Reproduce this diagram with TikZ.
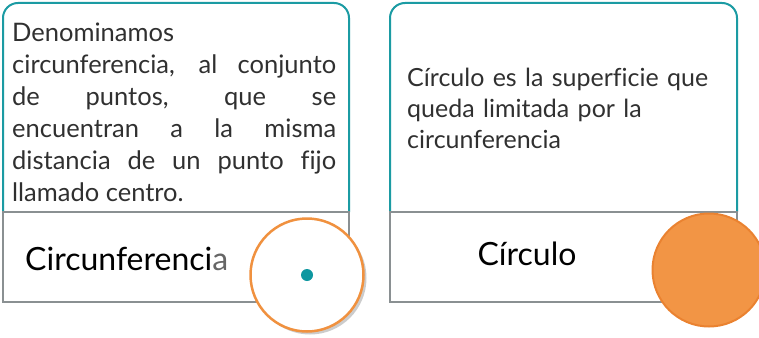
\documentclass[tikz,border=0pt]{standalone}
\usepackage{fontspec}
\setmainfont{Lato}[Ligatures=CommonOff]
\usetikzlibrary{shadows}
\definecolor{tealc}{HTML}{1B9BA3}
\definecolor{grayc}{HTML}{8A9092}
\definecolor{orangec}{HTML}{F0913F}
\definecolor{orangefill}{HTML}{F29545}
\definecolor{orangedark}{HTML}{EA8230}
\definecolor{dotc}{HTML}{0E97A0}
\definecolor{textc}{HTML}{303030}
\tikzset{
  topbox/.style={draw=tealc, line width=2pt, rounded corners=15pt},
  botbox/.style={draw=grayc, line width=2.5pt},
  para/.style={inner sep=0pt, text=textc, font=\fontsize{25.5}{32}\selectfont},
  label/.style={inner sep=0pt, text=black, font=\fontsize{32}{38}\selectfont},
}
\begin{document}
\begin{tikzpicture}[x=1pt,y=-1pt]
\useasboundingbox (0,0) rectangle (759,337);
% left card
\draw[topbox] (3,212) -- (3,3) -- (349,3) -- (349,212);
\draw[botbox] (3,212) rectangle (349,302);
% right card
\draw[topbox] (390,212) -- (390,3) -- (737,3) -- (737,212);
\draw[botbox] (390,212) rectangle (737,302);
% texts
\node[para, anchor=north west, text width=324pt, align=justify] (p1) at (12,22.5)
 {Denominamos\linebreak circunferencia, al conjunto\linebreak de puntos, que se\linebreak encuentran a la misma\linebreak distancia de un punto fijo\linebreak llamado centro.};
\node[para, anchor=north west, text width=330pt, align=left, font=\fontsize{25}{31}\selectfont] (p2) at (407,67.5)
 {Círculo es la superficie que\\ queda limitada por la\\ circunferencia};
\node[label, anchor=base west] (l1) at (25,270) {Circunferenci{\color{black!60}a}};
\node[label, anchor=base] (l2) at (527,265) {Círculo};
% circles
\node[circle, minimum size=113pt, inner sep=0pt, draw=orangec, line width=2.5pt, fill=white,
      drop shadow={opacity=0.4, shadow xshift=3pt, shadow yshift=-3pt}] (c1) at (307,275) {};
\node[circle, minimum size=12pt, inner sep=0pt, fill=dotc] (dot) at (c1.center) {};
\node[circle, minimum size=113pt, inner sep=0pt, draw=orangedark, line width=2pt, fill=orangefill] (c2) at (709,270) {};
\end{tikzpicture}
\end{document}
